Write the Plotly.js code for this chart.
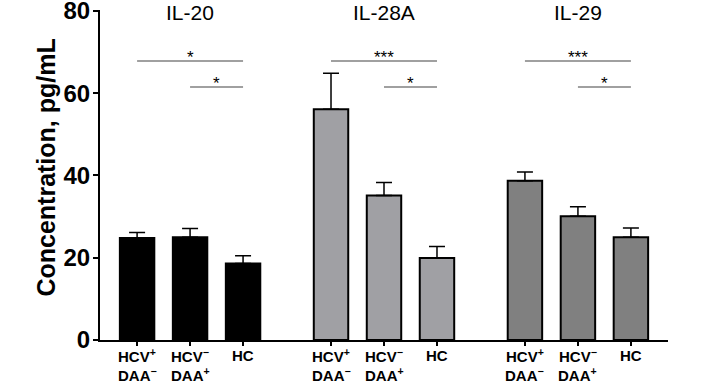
<!DOCTYPE html>
<html>
<head>
<meta charset="utf-8">
<script src="https://cdn.plot.ly/plotly-3.0.1.min.js"></script>
<style>html,body{margin:0;padding:0;background:#fff;}#chart{width:706px;height:383px;}</style>
</head>
<body>
<div id="chart"></div>
<script>
// ---- data ----
const groups = ["IL-20", "IL-28A", "IL-29"];
const labelLine1 = ["HCV<sup>+</sup>", "HCV<sup>−</sup>", "HC"];
const labelLine2 = ["DAA<sup>−</sup>", "DAA<sup>+</sup>", ""];
const il20 = [24.8, 25.0, 18.6];
const il20Err = [1.3, 2.1, 1.9];
const il28a = [56.1, 35.1, 19.9];
const il28aErr = [8.7, 3.2, 2.8];
const il29 = [38.7, 30.1, 25.0];
const il29Err = [2.1, 2.3, 2.2];
const yTicks = [0, 20, 40, 60, 80];
const yTitle = "Concentration, pg/mL";
// significance comparisons: [from index, to index, label]
const sig20 = [[0, 2, "*"], [1, 2, "*"]];
const sig28a = [[0, 2, "***"], [1, 2, "*"]];
const sig29 = [[0, 2, "***"], [1, 2, "*"]];

const values = [il20, il28a, il29];
const errs = [il20Err, il28aErr, il29Err];
const sigs = [sig20, sig28a, sig29];
const colors = ["#000000", "#a0a0a4", "#808080"];
const groupStep = 3.66;
const sigLevels = [67.8, 61.5];
const FONT = "Liberation Sans, Arial, sans-serif";

const traces = [];
const tickvals = [];
const shapes = [], annotations = [];
groups.forEach((g, gi) => {
  const xs = labelLine1.map((c, i) => gi * groupStep + i);
  xs.forEach((x, i) => {
    tickvals.push(x);
    annotations.push({x: x, y: 0, xref: "x", yref: "paper", text: "<b>" + labelLine1[i] + "</b>",
      showarrow: false, yanchor: "middle", yshift: -15, font: {size: 15, color: "#000", family: FONT}});
    if (labelLine2[i]) {
      annotations.push({x: x, y: 0, xref: "x", yref: "paper", text: "<b>" + labelLine2[i] + "</b>",
        showarrow: false, yanchor: "middle", yshift: -34, font: {size: 15, color: "#000", family: FONT}});
    }
  });
  traces.push({
    type: "bar", x: xs, y: values[gi], width: 0.65,
    marker: {color: colors[gi], line: {color: "#000", width: 2}},
    error_y: {type: "data", array: errs[gi], arrayminus: errs[gi].map(() => 0), symmetric: false,
              color: "#000", thickness: 1.5, width: 8},
    hoverinfo: "none", showlegend: false
  });
  annotations.push({x: gi * groupStep + 1, y: 79.5, xref: "x", yref: "y", text: g, showarrow: false,
    yanchor: "middle", font: {size: 21, color: "#000", family: FONT}});
  sigs[gi].forEach((s, si) => {
    const x0 = xs[s[0]], x1 = xs[s[1]], yv = sigLevels[si];
    shapes.push({type: "line", xref: "x", yref: "y", x0: x0, x1: x1, y0: yv, y1: yv,
      line: {color: "#808080", width: 1.5}});
    annotations.push({x: (x0 + x1) / 2, y: yv, xref: "x", yref: "y", text: s[2], showarrow: false,
      yanchor: "bottom", yshift: -8, font: {size: 17, color: "#000", family: FONT}});
  });
});

annotations.push({x: 0, y: 41.9, xref: "paper", yref: "y", text: "<b>" + yTitle + "</b>", showarrow: false,
  textangle: -90, xanchor: "center", yanchor: "middle", xshift: -54,
  font: {size: 25, color: "#000", family: FONT}});

const layout = {
  width: 706, height: 383,
  margin: {l: 100, r: 38, t: 10, b: 43},
  paper_bgcolor: "#fff", plot_bgcolor: "#fff",
  font: {family: FONT, color: "#000"},
  bargap: 0,
  xaxis: {
    range: [-0.7, 10.02], tickmode: "array", tickvals: tickvals, showticklabels: false,
    showline: true, linecolor: "#000", linewidth: 2, ticks: "outside", ticklen: 4, tickwidth: 2,
    tickcolor: "#000", showgrid: false, zeroline: false
  },
  yaxis: {
    range: [0, 80.2], tickmode: "array", tickvals: yTicks, ticktext: yTicks.map(String),
    showline: true, linecolor: "#000", linewidth: 2, ticks: "outside", ticklen: 5, tickwidth: 2,
    tickcolor: "#000", showgrid: false, zeroline: false, ticklabeloverflow: "allow",
    ticklabelstandoff: -2,
    tickfont: {size: 24, color: "#000", weight: "bold", family: FONT}
  },
  shapes: shapes, annotations: annotations
};
Plotly.newPlot("chart", traces, layout, {staticPlot: true, displayModeBar: false});
</script>
</body>
</html>
